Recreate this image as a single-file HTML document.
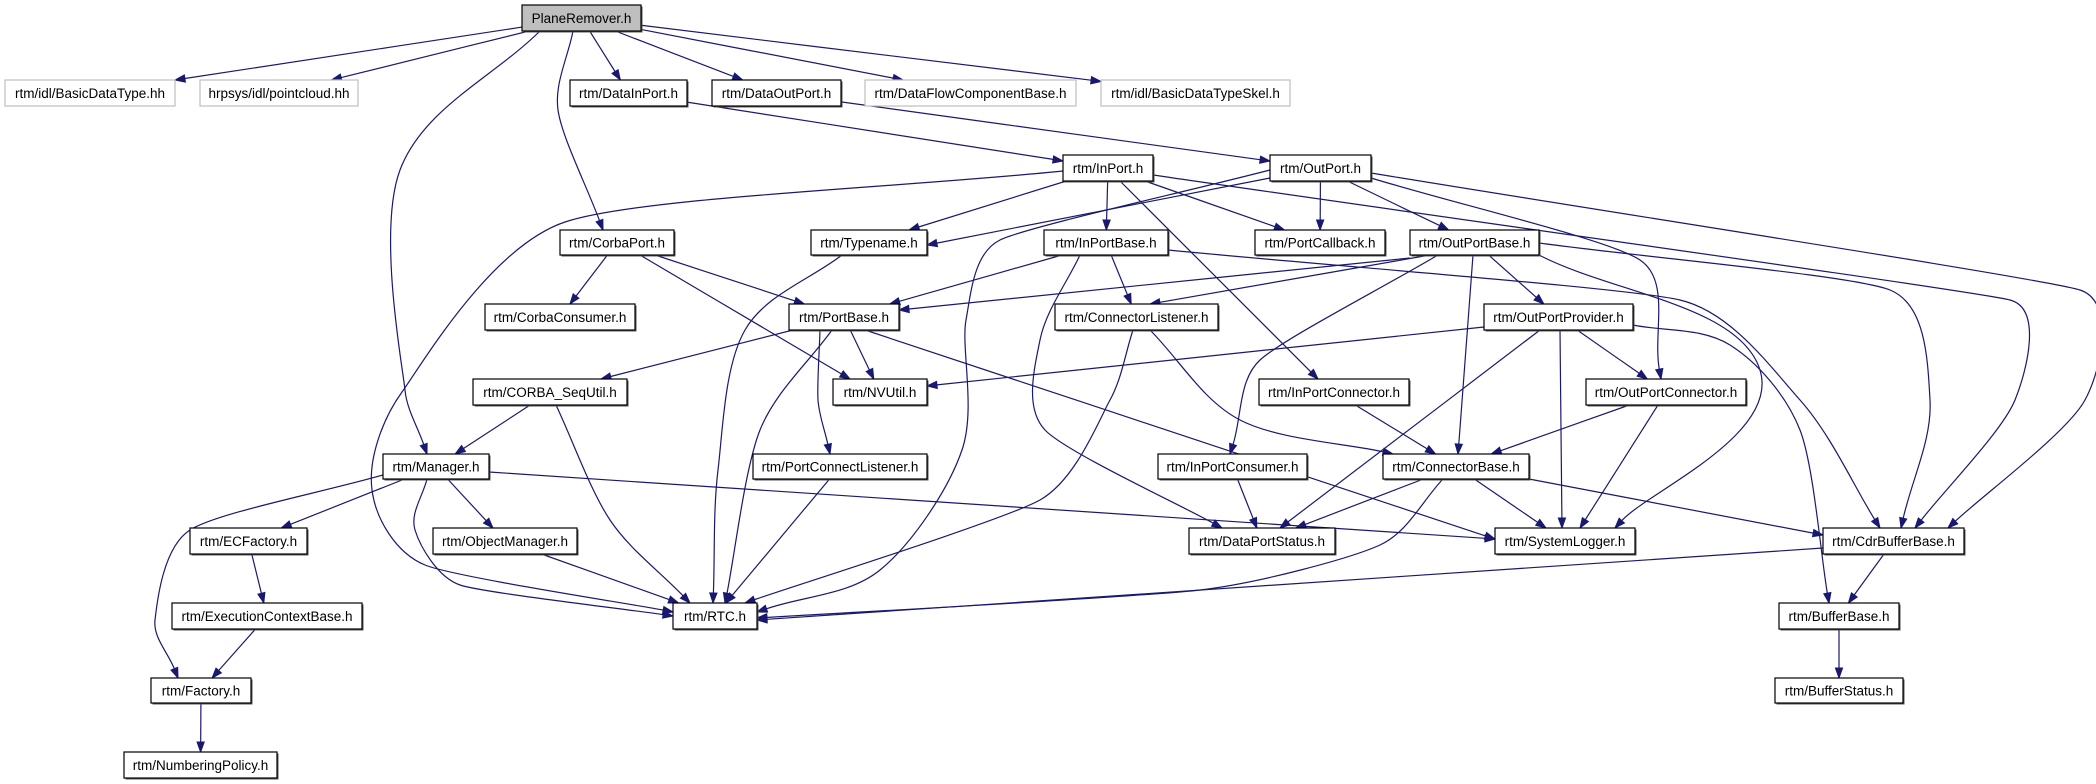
<!DOCTYPE html>
<html><head><meta charset="utf-8"><style>
html,body{margin:0;padding:0;background:#fff;}
svg{display:block;}
text{font-family:"Liberation Sans",sans-serif;font-size:13.5px;fill:#000;}
</style></head><body>
<svg id="g" xmlns="http://www.w3.org/2000/svg" width="2096" height="784" viewBox="0 0 2096 784"></svg>
<script>
var N={
PR:[522,5,641,31,'PlaneRemover.h',2],
BDT:[5,80,175,106,'rtm/idl/BasicDataType.hh',1],
PC:[200,80,358,106,'hrpsys/idl/pointcloud.hh',1],
DIP:[570,80,687,106,'rtm/DataInPort.h',0],
DOP:[712,80,841,106,'rtm/DataOutPort.h',0],
DFC:[865,80,1076,106,'rtm/DataFlowComponentBase.h',1],
BDS:[1101,80,1290,106,'rtm/idl/BasicDataTypeSkel.h',1],
IP:[1063,155,1153,181,'rtm/InPort.h',0],
OP:[1270,155,1371,181,'rtm/OutPort.h',0],
CP:[560,230,674,255,'rtm/CorbaPort.h',0],
TN:[811,230,927,255,'rtm/Typename.h',0],
IPB:[1044,230,1168,255,'rtm/InPortBase.h',0],
PCB:[1255,230,1385,255,'rtm/PortCallback.h',0],
OPB:[1410,230,1539,255,'rtm/OutPortBase.h',0],
CC:[485,304,635,330,'rtm/CorbaConsumer.h',0],
PB:[789,304,899,330,'rtm/PortBase.h',0],
CL:[1055,304,1218,330,'rtm/ConnectorListener.h',0],
OPP:[1484,304,1633,330,'rtm/OutPortProvider.h',0],
CSU:[473,379,627,405,'rtm/CORBA_SeqUtil.h',0],
NV:[833,379,927,405,'rtm/NVUtil.h',0],
IPC:[1259,379,1409,405,'rtm/InPortConnector.h',0],
OPC:[1586,379,1746,405,'rtm/OutPortConnector.h',0],
MG:[383,454,489,479,'rtm/Manager.h',0],
PCL:[753,454,927,479,'rtm/PortConnectListener.h',0],
IPCo:[1158,454,1307,479,'rtm/InPortConsumer.h',0],
CB:[1383,454,1529,479,'rtm/ConnectorBase.h',0],
ECF:[190,528,307,554,'rtm/ECFactory.h',0],
OM:[433,528,577,554,'rtm/ObjectManager.h',0],
DPS:[1189,528,1335,554,'rtm/DataPortStatus.h',0],
SL:[1495,528,1635,554,'rtm/SystemLogger.h',0],
CDR:[1823,528,1964,554,'rtm/CdrBufferBase.h',0],
ECB:[172,603,362,629,'rtm/ExecutionContextBase.h',0],
RTC:[673,603,757,629,'rtm/RTC.h',0],
BB:[1779,603,1899,629,'rtm/BufferBase.h',0],
FA:[151,678,251,703,'rtm/Factory.h',0],
BS:[1775,678,1903,703,'rtm/BufferStatus.h',0],
NP:[124,752,277,778,'rtm/NumberingPolicy.h',0]
};
var E=[
['PR','BDT'],['PR','PC'],['PR','MG',[[400,170],[405,390]],[540,31],[427,454]],
['PR','CP',[[558,110]],[573,31],[603,230]],['PR','DIP'],['PR','DOP'],['PR','DFC'],['PR','BDS'],
['DIP','IP'],['DOP','OP'],
['IP','RTC',[[565,222],[402,392],[372,490],[425,565]],[1063,171],[673,612]],
['IP','TN'],['IP','IPB'],['IP','PCB'],['IP','IPC',null,[1120,181],[1318,379]],
['IP','CDR',[[2010,300],[2015,400]],[1153,175],[1915,528]],
['OP','TN',null,[1270,178],[927,245]],
['OP','RTC',[[1000,240],[966,320],[962,450],[880,570]],[1270,170],[757,612]],
['OP','PCB'],['OP','OPB'],
['OP','OPC',[[1640,260]],[1371,178],[1661,379]],
['OP','CDR',[[2080,290],[2085,400]],[1371,173],[1948,528]],
['IPB','PB'],['IPB','CL'],['IPB','DPS',[[1040,340],[1045,430]],[1080,255],[1222,528]],
['IPB','CDR',[[1680,300],[1800,400]],[1168,250],[1880,528]],
['OPB','PB',null,[1410,258],[899,310]],['OPB','CL',null,[1430,255],[1150,304]],
['OPB','IPCo',[[1260,360]],[1438,255],[1230,454]],['OPB','CB',null,[1473,255],[1458,454]],
['OPB','OPP'],['OPB','SL',[[1760,370]],[1539,255],[1615,528]],
['OPB','CDR',[[1890,290],[1930,400]],[1539,243],[1901,528]],
['CP','CC'],['CP','PB'],['CP','NV',null,[640,255],[850,379]],
['TN','RTC',[[745,330],[718,470]],[842,255],[713,603]],
['PB','CSU'],['PB','NV'],['PB','PCL',[[818,400]],[820,330],[830,454]],
['PB','RTC',[[760,430]],[832,330],[725,603]],['PB','SL',null,[865,330],[1495,539]],
['CL','CB',[[1240,420]],[1150,330],[1393,454]],
['CL','RTC',[[1110,400],[1040,500]],[1133,330],[745,603]],
['OPP','NV',null,[1484,327],[927,386]],['OPP','DPS',null,[1540,330],[1280,528]],
['OPP','SL',null,[1560,330],[1562,528]],['OPP','OPC'],
['OPP','BB',[[1730,345],[1800,430]],[1633,325],[1829,603]],
['CSU','MG'],['CSU','RTC',[[610,520]],[556,405],[690,603]],
['IPC','CB'],['OPC','CB'],['OPC','SL',null,[1658,405],[1580,528]],
['MG','ECF'],['MG','OM'],['MG','FA',[[190,530],[155,620]],[383,475],[178,678]],
['MG','RTC',[[415,530],[460,585]],[427,479],[673,616]],['MG','SL',null,[489,472],[1495,539]],
['PCL','RTC'],['IPCo','DPS'],
['CB','DPS'],['CB','SL'],['CB','CDR',null,[1529,479],[1823,535]],
['CB','RTC',[[1380,545],[1200,590]],[1443,479],[757,618]],
['ECF','ECB'],['ECB','FA'],['FA','NP'],['OM','RTC'],
['CDR','RTC',null,[1823,548],[757,620]],['CDR','BB'],['BB','BS']
];
function ctr(n){var b=N[n];return [(b[0]+b[2])/2,(b[1]+b[3])/2];}
function bnd(n,p){var b=N[n],c=ctr(n),w=(b[2]-b[0])/2,h=(b[3]-b[1])/2,dx=p[0]-c[0],dy=p[1]-c[1];
var t=Math.min(dx?w/Math.abs(dx):1e9,dy?h/Math.abs(dy):1e9);return [c[0]+dx*t,c[1]+dy*t];}
function tan(p0,p1,p2){var dx=p2[0]-p0[0],dy=p2[1]-p0[1],L=Math.hypot(dx,dy)||1;
var m=Math.min(Math.hypot(p1[0]-p0[0],p1[1]-p0[1])||1e9,Math.hypot(p2[0]-p1[0],p2[1]-p1[1])||1e9)/3;
return [dx/L*m,dy/L*m];}
var s='';
E.forEach(function(e){
var via=e[2]||[];
var a=e[3]||bnd(e[0],via.length?via[0]:ctr(e[1]));
var z=e[4]||bnd(e[1],via.length?via[via.length-1]:ctr(e[0]));
var P=[a].concat(via,[z]);
var pv=P[P.length-2],dx=z[0]-pv[0],dy=z[1]-pv[1],L=Math.hypot(dx,dy),ux=dx/L,uy=dy/L;
var base=[z[0]-ux*10,z[1]-uy*10];P[P.length-1]=base;
var d='M'+P[0][0]+','+P[0][1];
for(var i=0;i<P.length-1;i++){var p0=P[i-1]||P[i],p1=P[i],p2=P[i+1],p3=P[i+2]||P[i+1];
var t1=tan(p0,p1,p2),t2=tan(p1,p2,p3);
var c1=[p1[0]+t1[0],p1[1]+t1[1]],c2=[p2[0]-t2[0],p2[1]-t2[1]];
if(i==P.length-2){var sl=Math.min(40,Math.hypot(p2[0]-p1[0],p2[1]-p1[1])/3);c2=[p2[0]-ux*sl,p2[1]-uy*sl];}
d+=' C'+c1[0].toFixed(1)+','+c1[1].toFixed(1)+' '+c2[0].toFixed(1)+','+c2[1].toFixed(1)+' '+p2[0].toFixed(1)+','+p2[1].toFixed(1);}
s+='<path d="'+d+'" fill="none" stroke="#191970" stroke-width="1.2"/>';
var px=-uy,py=ux;
s+='<polygon points="'+z[0]+','+z[1]+' '+(base[0]+px*3.6)+','+(base[1]+py*3.6)+' '+(base[0]-px*3.6)+','+(base[1]-py*3.6)+'" fill="#191970" stroke="#191970"/>';
});
for(var k in N){var b=N[k],w=b[2]-b[0],h=b[3]-b[1];
var fill=b[5]==2?'#bfbfbf':'#fff',st=b[5]==1?'#bfbfbf':'#000';
if(b[5]!=1)s+='<rect x="'+(b[0]+1.5)+'" y="'+(b[1]+1.5)+'" width="'+w+'" height="'+h+'" fill="#555"/>';
s+='<rect x="'+b[0]+'" y="'+b[1]+'" width="'+w+'" height="'+h+'" fill="'+fill+'" stroke="'+st+'" stroke-width="1.2"/>';
s+='<text x="'+(b[0]+w/2)+'" y="'+(b[1]+h/2+5)+'" text-anchor="middle">'+b[4]+'</text>';}
document.getElementById('g').innerHTML=s;
</script>
</body></html>
